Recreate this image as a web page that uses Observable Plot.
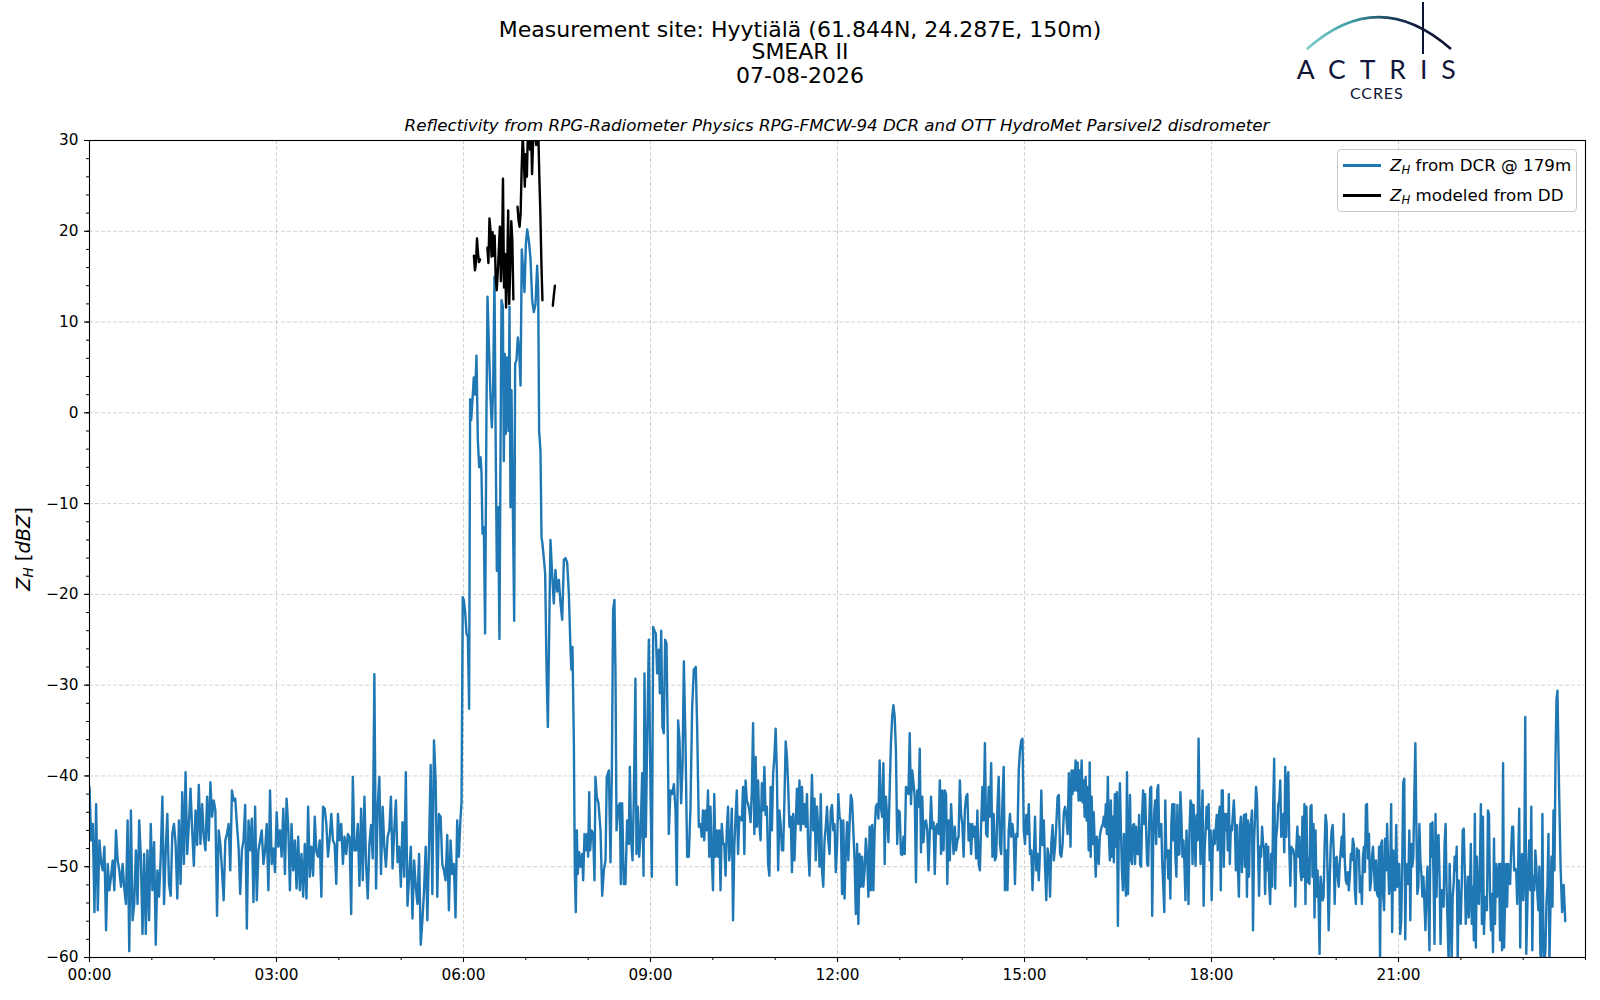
<!DOCTYPE html>
<html>
<head>
<meta charset="utf-8">
<script src="https://cdn.jsdelivr.net/npm/d3@7"></script>
<script src="https://cdn.jsdelivr.net/npm/@observablehq/plot@0.6"></script>
<style>
  body { margin: 0; background: #fff; }
  #page { position: relative; width: 1600px; height: 1000px; background: #fff; overflow: hidden;
          font-family: 'DejaVu Sans', sans-serif; color: #000; }
  .title { position: absolute; left: 0; width: 1600px; text-align: center; font-size: 22px;
           line-height: 23px; white-space: nowrap; }
  #subtitle { position: absolute; left: 89px; width: 1496px; top: 116px; text-align: center;
              font-style: italic; font-size: 16.7px; line-height: 19px; white-space: nowrap; }
  #chart { position: absolute; left: 0; top: 135px; }
  #ylabel { position: absolute; left: 22.5px; top: 549px; transform: translate(-50%, -50%) rotate(-90deg);
            font-size: 19.4px; white-space: nowrap; }
  #legend { position: absolute; left: 1337px; top: 149px; width: 238px; height: 61px;
            border: 1px solid #c8c8c8; border-radius: 4px; background: rgba(255,255,255,0.85);
            font-size: 16.7px; }
  .lrow { position: absolute; left: 0; height: 22px; width: 238px; }
  .sw { position: absolute; left: 5px; width: 38px; height: 2.5px; top: 10px; }
  .lt { position: absolute; left: 52px; top: 0; line-height: 22px; white-space: nowrap; }
  sub { font-size: 0.7em; vertical-align: -0.25em; line-height: 0; }
</style>
</head>
<body>
<div id="page">
  <div class="title" style="top:17.5px">Measurement site: Hyytiälä (61.844N, 24.287E, 150m)</div>
  <div class="title" style="top:40px">SMEAR II</div>
  <div class="title" style="top:63.5px">07-08-2026</div>
  <div id="subtitle">Reflectivity from RPG-Radiometer Physics RPG-FMCW-94 DCR and OTT HydroMet Parsivel2 disdrometer</div>

  <svg id="logo" style="position:absolute;left:1290px;top:0" width="180" height="105">
    <defs>
      <linearGradient id="arcg" x1="0" x2="1" y1="0" y2="0">
        <stop offset="0" stop-color="#7fcdc8"/>
        <stop offset="0.3" stop-color="#3c9ea5"/>
        <stop offset="0.55" stop-color="#1f4a66"/>
        <stop offset="0.75" stop-color="#121c3e"/>
        <stop offset="1" stop-color="#0c1233"/>
      </linearGradient>
    </defs>
    <path d="M16.7,49.3 Q88,-15 161,49" fill="none" stroke="url(#arcg)" stroke-width="2.6"/>
    <line x1="133" y1="2" x2="133" y2="54" stroke="#0c1233" stroke-width="2"/>
    <text x="6.7" y="78.7" font-family="Lato, 'DejaVu Sans', sans-serif" font-size="26.6" fill="#10163a"
          textLength="159" lengthAdjust="spacing">ACTRIS</text>
    <text x="60" y="99" font-family="Lato, 'DejaVu Sans', sans-serif" font-size="16" fill="#10163a"
          textLength="52.7" lengthAdjust="spacing">CCRES</text>
  </svg>

  <div id="chart"></div>
  <div id="ylabel"><i>Z</i><sub><i>H</i></sub> [<i>dBZ</i>]</div>
  <div id="legend">
    <div class="lrow" style="top:4px"><div class="sw" style="background:#1f77b4"></div>
      <div class="lt"><i>Z</i><sub><i>H</i></sub> from DCR @ 179m</div></div>
    <div class="lrow" style="top:34px"><div class="sw" style="background:#000"></div>
      <div class="lt"><i>Z</i><sub><i>H</i></sub> modeled from DD</div></div>
  </div>
</div>

<script>
// ---------- axis ticks ----------
const xTickHours  = [0, 3, 6, 9, 12, 15, 18, 21];
const xTickLabels = ["00:00", "03:00", "06:00", "09:00", "12:00", "15:00", "18:00", "21:00"];
const yTicks      = [-60, -50, -40, -30, -20, -10, 0, 10, 20, 30];

// ---------- Z_H from DCR @ 179m (dBZ) ----------
// 00:00 - 05:57, evenly spaced samples
const nightStartMin = 0, nightEndMin = 357.1;
const dcrNight = [
-41.2,-47.1,-45.3,-55.0,-43.1,-54.8,-47.1,-49.5,-50.4,-47.8,-57.0,-49.7,-52.6,-51.1,-49.3,-52.6,-46.0,-49.3,-50.4,-52.2,
-49.7,-52.4,-54.1,-44.9,-59.3,-43.8,-55.9,-54.1,-48.2,-54.1,-44.9,-48.9,-57.4,-48.6,-57.4,-48.2,-55.9,-45.3,-52.6,-47.3,
-58.6,-50.4,-53.3,-48.9,-42.3,-54.1,-48.2,-44.2,-51.9,-53.2,-46.4,-45.3,-47.5,-53.5,-44.9,-51.9,-41.8,-49.7,-39.6,-48.6,
-45.3,-41.4,-46.0,-49.9,-43.8,-47.6,-41.0,-47.5,-43.1,-46.7,-48.2,-42.3,-47.1,-40.7,-44.5,-42.7,-43.8,-55.4,-46.0,-47.5,
-50.4,-53.7,-47.1,-46.4,-45.3,-50.4,-41.6,-42.7,-42.5,-45.3,-47.8,-53.0,-48.2,-47.1,-43.2,-56.8,-44.9,-48.2,-44.7,-53.9,
-43.4,-53.7,-48.2,-47.1,-46.0,-49.7,-48.2,-45.3,-52.6,-41.6,-49.7,-48.0,-50.6,-44.0,-47.8,-46.0,-48.9,-43.6,-50.8,-42.5,
-45.6,-52.6,-45.3,-50.4,-47.1,-52.4,-46.7,-52.6,-48.6,-53.3,-47.5,-53.5,-43.4,-51.1,-47.8,-51.0,-44.5,-48.4,-48.9,-47.1,
-53.3,-43.4,-43.6,-45.3,-48.9,-46.9,-44.2,-47.1,-47.5,-51.9,-44.2,-47.1,-45.3,-49.7,-46.7,-48.6,-46.4,-46.7,-55.2,-40.1,
-48.2,-48.2,-45.3,-52.1,-43.6,-51.5,-42.3,-49.7,-53.5,-47.5,-45.4,-49.1,-28.8,-52.4,-43.4,-40.1,-50.8,-43.4,-47.8,-50.0,
-46.7,-46.0,-42.3,-50.2,-46.0,-42.7,-49.5,-47.8,-52.2,-45.1,-51.1,-39.6,-54.3,-51.1,-47.8,-55.7,-49.3,-52.2,-54.1,-48.6,
-58.6,-55.9,-52.6,-47.8,-55.9,-47.8,-38.8,-53.0,-36.1,-40.5,-53.3,-44.2,-44.5,-49.7,-50.4,-51.5,-46.5,-54.8,-47.1,-50.8,
-49.7,-55.6,-44.9,-48.9,-44.7
];

// 05:58 - 09:46, rain event, sampled at the minutes listed
const eventMinutes = [
358.1,359.3,360.3,361.6,362.9,364.2,365.4,366.4,367.4,368.7,369.9,371.2,372.5,373.8,375.1,376.4,377.3,378.3,379.6,380.8,
382.1,383.1,384.4,386.0,387.3,388.5,389.8,391.1,392.1,393.4,394.6,395.6,396.6,397.9,398.8,399.8,400.7,402.0,403.3,404.3,
405.2,406.2,407.5,408.8,409.7,411.0,412.3,413.6,414.9,416.1,417.4,418.7,420.0,421.3,422.9,424.5,426.1,427.7,429.3,430.9,
431.9,432.8,434.1,435.1,436.0,437.3,438.6,439.9,441.2,442.5,443.7,445.3,446.9,448.5,450.2,451.8,453.4,455.0,456.6,458.2,
459.8,461.4,463.0,463.9,464.9,466.2,467.2,468.1,469.1,470.0,471.3,472.6,474.2,475.2,476.5,477.7,479.0,480.0,481.0,481.9,
483.2,484.8,486.1,487.0,488.3,489.9,491.9,493.5,495.1,496.7,497.9,499.9,501.5,502.8,504.0,505.3,506.3,507.3,508.9,510.5,
511.4,512.7,514.3,515.9,517.5,519.1,520.1,521.4,522.7,523.9,525.5,526.5,527.8,529.1,530.4,532.0,533.3,534.2,535.5,536.8,
538.4,540.0,541.3,542.6,543.8,545.1,546.4,548.0,549.0,550.3,551.5,552.8,554.1,555.4,556.7,557.6,559.2,560.8,562.5,564.1,
565.3,566.6,567.9,569.5,570.8,572.1,573.7,575.3,576.9,578.5,580.1,581.7,583.6,584.9,586.5
];
const dcrEvent = [
-43.0,-20.3,-20.6,-22.0,-24.3,-24.7,-32.6,1.5,-0.8,1.5,3.9,2.0,6.3,-3.0,-6.0,-4.9,-6.5,-13.3,-12.6,-24.3,
0.0,12.8,7.6,1.7,-1.6,2.5,15.0,-5.0,-17.4,-10.4,-24.9,-5.0,12.4,11.7,-5.3,6.5,-2.3,6.1,-2.0,11.7,
-10.4,2.5,-10.4,-22.9,5.4,5.8,8.3,7.0,3.0,18.0,15.7,13.3,18.5,20.2,19.0,17.0,12.4,11.1,12.0,16.2,
13.5,-2.0,-4.2,-13.7,-14.4,-16.0,-17.7,-28.0,-34.6,-24.0,-14.0,-17.7,-21.0,-17.3,-19.7,-18.4,-21.0,-22.8,-16.2,-16.0,
-16.5,-19.9,-26.1,-28.3,-25.8,-36.0,-50.8,-55.0,-46.0,-50.8,-48.4,-50.0,-48.6,-51.5,-46.4,-48.2,-46.4,-48.9,-41.8,-48.2,
-46.0,-46.4,-51.5,-40.1,-42.3,-43.0,-46.0,-53.2,-50.4,-49.3,-40.1,-39.4,-49.5,-39.4,-21.7,-20.6,-28.7,-46.0,-43.4,-43.0,
-51.9,-43.0,-51.9,-51.9,-44.9,-47.5,-39.0,-47.1,-49.3,-42.7,-29.3,-48.6,-43.4,-48.9,-46.7,-39.7,-51.0,-28.7,-46.7,-36.0,
-25.0,-41.6,-51.1,-23.6,-24.0,-24.3,-28.7,-26.1,-30.9,-24.0,-34.6,-35.3,-25.0,-25.4,-36.4,-46.4,-41.6,-42.0,-40.9,-43.8,
-52.0,-33.9,-36.0,-43.0,-39.0,-27.4,-36.4,-48.9,-48.9,-43.4,-32.4,-28.3,-28.0,-34.6,-45.6
];

// 09:48 - 15:43, evenly spaced samples
const midStartMin = 588.1, midEndMin = 942.7;
const dcrMid = [
-45.3,-46.7,-43.8,-47.1,-43.8,-46.0,-41.6,-48.9,-43.4,-48.9,-52.6,-42.0,-48.9,-46.0,-48.9,-46.0,-52.6,-45.3,-47.5,-47.5,
-51.0,-46.0,-43.4,-49.3,-47.5,-43.6,-55.9,-47.8,-44.5,-41.6,-48.6,-44.5,-44.7,-44.9,-41.2,-48.6,-40.5,-42.7,-43.1,-43.8,
-45.1,-41.6,-34.2,-46.4,-37.9,-45.6,-40.5,-45.3,-47.1,-40.8,-43.8,-39.0,-44.3,-43.4,-49.7,-51.0,-41.2,-46.0,-39.7,-37.9,
-34.8,-39.7,-50.4,-43.8,-45.3,-48.2,-48.2,-42.7,-36.2,-37.9,-41.2,-45.6,-44.5,-50.6,-44.2,-49.3,-45.3,-41.4,-45.3,-40.5,
-46.0,-41.2,-45.3,-43.1,-45.6,-42.0,-48.2,-51.0,-45.3,-39.9,-46.0,-42.5,-49.3,-43.4,-46.0,-50.0,-42.0,-50.4,-52.2,-47.1,
-45.6,-43.4,-47.1,-48.6,-43.8,-43.2,-46.0,-45.3,-50.6,-47.8,-42.0,-44.5,-44.9,-53.0,-44.9,-53.5,-48.2,-45.1,-49.3,-45.3,
-42.1,-42.7,-46.0,-49.3,-55.2,-47.5,-56.3,-48.6,-52.2,-48.9,-52.2,-50.4,-46.9,-48.9,-53.3,-45.6,-52.6,-45.4,-52.6,-46.0,
-43.4,-43.1,-44.7,-38.3,-43.4,-44.5,-38.6,-49.7,-42.3,-44.5,-47.3,-41.6,-36.4,-33.5,-32.2,-33.5,-37.2,-47.5,-43.8,-44.0,
-48.6,-48.7,-46.7,-48.6,-41.2,-41.6,-42.0,-35.3,-43.1,-39.4,-40.8,-42.3,-51.7,-41.6,-43.4,-37.0,-48.4,-42.3,-47.3,-45.1,
-44.9,-46.0,-50.4,-46.4,-42.3,-45.8,-45.1,-50.8,-45.6,-45.3,-46.4,-40.5,-48.6,-41.6,-48.2,-41.6,-42.0,-51.9,-44.9,-49.3,
-43.1,-46.0,-48.6,-45.6,-48.2,-47.1,-46.7,-40.5,-44.2,-45.3,-48.9,-43.8,-42.3,-42.0,-47.1,-45.3,-48.6,-45.3,-46.7,-45.6,
-49.1,-43.8,-49.7,-50.4,-45.3,-41.2,-44.9,-36.4,-46.4,-46.7,-41.2,-44.5,-38.6,-48.9,-44.2,-49.3,-48.9,-43.4,-40.1,-47.5,
-48.6,-42.7,-39.0,-52.6,-48.2,-52.6,-46.0,-44.2,-46.7,-45.3,-46.7,-51.9,-46.4,-46.7,-39.4,-37.2,-36.1,-35.9,-46.0,-47.5,
-44.3,-46.4,-43.1,-48.6,-48.2,-52.6,-48.9,-44.5,-50.4,-48.6,-51.5,-48.2,-41.6,-47.6,-44.9,-50.0,-53.7,-48.0,-48.9,-53.3,
-47.5,-45.4,-49.3,-47.8,-45.3,-42.3,-42.1,-48.6,-48.9,-47.5,-44.0,-43.4,-44.5,-46.4,-39.7
];

// 15:44 - 23:32, evenly spaced samples
const lateStartMin = 944.3, lateEndMin = 1412.1;
const dcrLate = [
-47.8,-39.4,-42.0,-39.4,-41.6,-38.3,-41.6,-38.5,-42.7,-39.4,-42.7,-38.3,-42.9,-40.5,-44.5,-40.1,-44.9,-41.2,-48.2,-38.5,
-48.9,-42.3,-47.5,-44.0,-47.5,-51.1,-46.7,-47.8,-49.7,-46.7,-46.0,-45.6,-45.3,-44.5,-45.6,-43.1,-46.4,-40.1,-46.4,-49.3,
-42.7,-48.9,-44.5,-49.5,-42.0,-47.8,-41.8,-56.5,-44.2,-40.8,-46.0,-50.4,-52.6,-46.4,-50.6,-53.2,-39.6,-53.0,-47.1,-42.1,
-49.3,-49.7,-45.4,-45.3,-49.7,-45.6,-48.6,-48.6,-44.3,-49.7,-50.0,-44.3,-41.6,-45.3,-42.0,-46.0,-49.7,-49.9,-45.3,-41.4,
-41.2,-55.4,-47.5,-44.0,-42.7,-47.5,-41.6,-41.0,-46.7,-46.4,-45.3,-49.7,-52.2,-55.0,-42.7,-48.9,-48.2,-51.3,-48.2,-53.5,
-45.3,-43.1,-47.1,-43.1,-48.9,-51.1,-43.2,-48.7,-48.6,-41.8,-44.5,-48.9,-47.1,-49.7,-53.7,-46.0,-48.6,-54.1,-46.0,-42.7,
-43.1,-49.7,-43.2,-46.4,-49.9,-44.3,-47.1,-35.9,-44.5,-49.7,-44.9,-41.6,-54.3,-48.2,-46.0,-43.4,-45.8,-43.1,-49.3,-46.0,
-53.7,-48.2,-46.0,-47.5,-46.0,-44.3,-48.2,-44.5,-43.4,-52.6,-41.6,-41.6,-50.0,-44.2,-46.0,-44.2,-48.2,-42.0,-49.7,-45.6,
-46.0,-44.3,-42.7,-45.3,-50.4,-45.4,-50.0,-53.3,-45.6,-44.5,-50.6,-46.7,-44.3,-50.0,-44.2,-53.3,-44.9,-51.1,-45.6,-45.1,
-43.8,-57.0,-47.5,-44.5,-41.2,-42.7,-48.2,-53.2,-47.8,-48.9,-45.6,-47.5,-48.0,-53.0,-47.5,-50.4,-47.8,-51.9,-54.1,-48.6,
-52.2,-43.2,-38.1,-52.4,-46.7,-45.6,-43.2,-42.7,-40.5,-46.7,-45.6,-44.2,-48.4,-39.0,-46.7,-40.5,-39.6,-48.0,-52.1,-47.8,
-48.0,-48.2,-48.9,-54.4,-47.8,-45.6,-48.9,-46.7,-50.4,-51.5,-44.5,-51.1,-43.1,-54.1,-43.4,-51.7,-49.1,-51.9,-43.4,-43.2,
-51.1,-45.3,-55.6,-46.0,-53.3,-50.4,-53.7,-59.6,-51.1,-52.2,-53.7,-53.3,-47.6,-44.3,-45.3,-51.1,-57.0,-51.9,-47.8,-46.0,
-45.4,-48.2,-54.1,-49.1,-48.9,-51.1,-52.2,-49.7,-48.2,-46.7,-48.9,-44.2,-49.3,-51.5,-51.9,-50.6,-52.6,-51.1,-48.6,-49.3,
-46.9,-47.6,-52.6,-54.1,-48.0,-48.6,-48.2,-52.8,-51.1,-54.1,-48.9,-47.8,-50.6,-43.2,-43.1,-49.1,-46.4,-52.6,-51.7,-48.9,
-47.8,-50.4,-52.6,-49.3,-53.0,-53.3,-47.8,-60.5,-47.5,-47.1,-53.2,-54.8,-46.9,-50.4,-45.3,-49.7,-53.0,-51.1,-43.1,-57.2,
-48.2,-51.1,-52.6,-45.4,-52.2,-50.4,-49.7,-57.4,-55.9,-49.7,-40.7,-40.3,-58.0,-49.7,-51.1,-51.9,-46.0,-55.9,-47.5,-50.0,
-48.9,-42.0,-36.4,-45.3,-53.0,-52.2,-45.3,-49.3,-50.8,-53.3,-51.1,-54.1,-57.0,-52.6,-50.0,-54.4,-59.2,-45.3,-48.9,-45.1,
-51.1,-58.5,-44.2,-53.3,-46.7,-46.5,-51.1,-58.5,-52.6,-54.1,-54.4,-47.5,-45.3,-52.6,-56.3,-60.5,-49.7,-54.4,-60.5,-53.3,
-51.9,-48.9,-50.4,-47.8,-60.5,-51.5,-54.8,-56.3,-51.9,-46.0,-45.8,-50.4,-56.3,-54.1,-51.1,-55.6,-53.3,-47.5,-56.3,-52.2,
-58.1,-44.2,-58.9,-48.9,-53.3,-54.1,-49.7,-43.1,-56.3,-44.5,-57.4,-54.1,-53.3,-54.8,-43.8,-44.2,-52.6,-57.0,-53.0,-59.4,
-46.9,-56.3,-49.7,-53.3,-50.4,-49.7,-58.1,-49.7,-59.2,-38.6,-58.9,-53.7,-49.7,-54.4,-49.7,-51.1,-51.9,-48.2,-45.6,-45.6,
-50.4,-50.2,-50.4,-54.1,-49.7,-43.6,-58.9,-48.9,-48.6,-53.7,-50.4,-33.5,-59.6,-54.8,-49.7,-47.1,-52.6,-43.4,-59.2,-51.1,
-52.6,-48.2,-50.0,-53.0,-54.8,-50.0,-59.6,-60.5,-44.2,-58.0,-60.5,-59.2,-54.1,-52.2,-46.4,-60.5,-54.4,-48.9,-54.4,-43.8,
-50.4,-37.9,-31.6
];

// 23:33 - 23:41, last samples
const tailStartMin = 1413, tailEndMin = 1420.5;
const dcrTail = [-30.6, -41.0, -50.0, -55.0, -52.0, -56.0];

// ---------- Z_H modeled from disdrometer (dBZ), one value per minute from 06:10; null = no data ----------
const ddStartMin = 370;
const ddModel = [
17.3,15.7,16.5,19.2,17.5,16.6,16.9,null,null,null,null,null,null,18.2,16.5,21.4,20.1,17.2,19.9,17.3,
19.5,14.9,13.5,15.5,18.0,20.5,14.5,17.0,25.8,13.8,17.5,11.6,15.5,22.3,12.0,16.0,21.1,19.0,12.5,null,
null,null,22.7,21.2,20.5,22.0,27.0,30.5,28.1,24.9,28.5,26.0,31.0,33.0,29.0,31.0,26.3,30.0,33.0,31.0,
29.5,33.0,31.0,26.0,21.9,16.4,12.4,null,null,null,null,null,null,null,null,null,11.8,13.0,14.0
];

// ---------- build tables ----------
function evenly(values, startMin, endMin) {
  const step = (endMin - startMin) / (values.length - 1);
  return values.map((v, i) => ({h: (startMin + i * step) / 60, v}));
}
const dcr = [
  ...evenly(dcrNight, nightStartMin, nightEndMin),
  ...dcrEvent.map((v, i) => ({h: eventMinutes[i] / 60, v})),
  ...evenly(dcrMid, midStartMin, midEndMin),
  ...evenly(dcrLate, lateStartMin, lateEndMin),
  ...evenly(dcrTail, tailStartMin, tailEndMin)
];
const dd = ddModel.map((v, i) => ({h: (ddStartMin + i) / 60, v}));

const xMinor = d3.range(0, 25, 1);
const yMinor = d3.range(-60, 31, 2);
const fmtY = d => d < 0 ? "\u2212" + Math.abs(d) : String(d);
const gridStyle = {stroke: "#b0b0b0", strokeOpacity: 0.55, strokeWidth: 1, strokeDasharray: "4,2"};

const chart = Plot.plot({
  width: 1600,
  height: 865,
  marginLeft: 89,
  marginRight: 15,
  marginTop: 5,
  marginBottom: 43,
  x: {domain: [0, 24], label: null},
  y: {domain: [-60, 30], label: null},
  style: {fontFamily: "'DejaVu Sans', sans-serif", fontSize: "15.3px", color: "#000", background: "transparent", overflow: "visible"},
  marks: [
    Plot.gridX(xTickHours.filter(h => h > 0), gridStyle),
    Plot.gridY(yTicks.filter(v => v > -60 && v < 30), gridStyle),
    Plot.line(dcr, {x: "h", y: "v", stroke: "#1f77b4", strokeWidth: 2.4, clip: true}),
    Plot.line(dd, {x: "h", y: "v", stroke: "#000", strokeWidth: 2.4, clip: true}),
    Plot.axisX(xMinor, {tickSize: 3, tickFormat: () => "", label: null, strokeWidth: 1}),
    Plot.axisX(xTickHours, {tickSize: 5, tickPadding: 7, tickFormat: d => xTickLabels[xTickHours.indexOf(d)], label: null, strokeWidth: 1.1}),
    Plot.axisY(yMinor, {tickSize: 3, tickFormat: () => "", label: null, strokeWidth: 1}),
    Plot.axisY(yTicks, {tickSize: 5, tickPadding: 6, tickFormat: fmtY, label: null, strokeWidth: 1.1}),
    Plot.frame({stroke: "#000", strokeWidth: 1.1})
  ]
});
document.getElementById("chart").appendChild(chart);
</script>
</body>
</html>
